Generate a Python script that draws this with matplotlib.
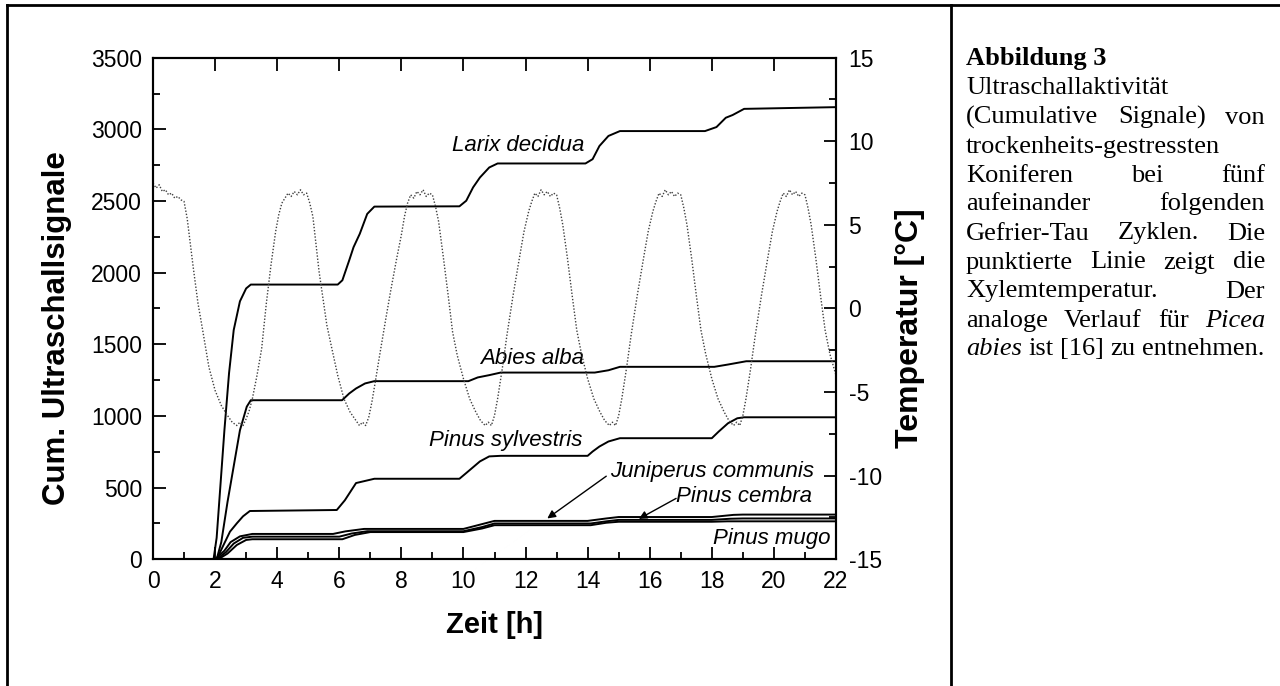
import matplotlib
matplotlib.use("Agg")
import matplotlib.pyplot as plt
from matplotlib.ticker import MultipleLocator
from matplotlib.lines import Line2D

plt.rcParams.update({
    "font.family": "sans-serif",
    "font.sans-serif": ["Liberation Sans", "DejaVu Sans"],
    "axes.unicode_minus": False,
})

# cumulative ultrasound signals, time [h] / counts
larix_t = [0, 1.95, 2.05, 2.15, 2.3, 2.45, 2.6, 2.8, 3.0, 3.15, 5.95, 6.1, 6.32, 6.46, 6.66, 6.9,
           7.13, 9.87, 10.09, 10.31, 10.53, 10.83, 11.1, 13.93, 14.16, 14.38, 14.67, 15.04, 17.78,
           18.15, 18.45, 18.67, 19.04, 22.0]
larix_v = [0, 0, 150, 450, 900, 1300, 1600, 1800, 1890, 1917, 1917, 1947, 2086, 2178, 2271, 2410,
           2461, 2463, 2502, 2595, 2664, 2734, 2762, 2762, 2792, 2884, 2954, 2988, 2988,
           3016, 3081, 3100, 3143, 3155]

abies_t = [0, 2.05, 2.2, 2.4, 2.6, 2.8, 3.02, 3.15, 6.09, 6.32, 6.54, 6.83, 7.13, 10.16, 10.46,
           10.83, 11.2, 14.23, 14.67, 15.04, 18.08, 18.52, 19.11, 22.0]
abies_v = [0, 0, 120, 400, 650, 900, 1065, 1110, 1110, 1157, 1192, 1227, 1243, 1243, 1269,
           1285, 1303, 1303, 1319, 1343, 1343, 1359, 1382, 1382]

sylv_t = [0, 2.05, 2.25, 2.48, 2.7, 2.9, 3.12, 5.92, 6.18, 6.54, 7.13, 9.87, 10.09, 10.53, 10.83,
          11.2, 14.0, 14.16, 14.38, 14.67, 15.04, 18.0, 18.22, 18.52, 18.82, 19.04, 22.0]
sylv_v = [0, 0, 90, 193, 251, 300, 337, 344, 412, 532, 562, 562, 602, 683, 718,
          722, 722, 752, 787, 822, 845, 845, 891, 949, 984, 991, 991]

junip_t = [0, 2.0, 2.3, 2.5, 2.8, 3.2, 5.8, 6.2, 6.8, 10.0, 10.5, 11.0, 14.0, 14.6, 15.0, 18.0,
           18.7, 19.0, 22.0]
junip_v = [0, 0, 60, 120, 160, 177, 177, 195, 212, 212, 240, 268, 268, 285, 295, 295,
           310, 312, 312]

cembra_t = [0, 2.05, 2.35, 2.6, 2.9, 3.2, 6.0, 6.4, 6.9, 10.0, 10.6, 11.0, 14.1, 14.6, 15.0, 18.0,
            18.6, 19.0, 22.0]
cembra_v = [0, 0, 50, 110, 150, 158, 158, 180, 196, 196, 225, 250, 250, 265, 275, 275,
            283, 285, 285]

mugo_t = [0, 2.1, 2.4, 2.7, 3.0, 3.2, 6.1, 6.5, 7.0, 10.0, 10.6, 11.0, 14.1, 14.6, 15.0, 18.0,
          18.5, 22.0]
mugo_v = [0, 0, 40, 100, 135, 140, 140, 170, 190, 190, 215, 238, 238, 255, 262, 262,
          265, 265]

# xylem temperature [°C]
temp_t = [0.0, 0.1, 0.2, 0.3, 0.4, 0.5, 0.6, 0.7, 0.8, 0.9, 1.0,
          1.1, 1.3, 1.45, 1.6, 1.8, 2.0, 2.2, 2.4, 2.55, 2.7, 2.8, 2.9, 3.0, 3.1, 3.2, 3.35,
          3.5, 3.65, 3.8, 3.95, 4.05, 4.15, 4.25, 4.35, 4.45, 4.55, 4.65, 4.75, 4.85, 4.95, 5.05,
          5.15, 5.35, 5.5, 5.6, 5.75, 5.95, 6.15, 6.35, 6.5, 6.65, 6.75, 6.85, 6.95, 7.05, 7.15,
          7.3, 7.5, 7.65, 7.85, 8.0, 8.1, 8.2, 8.3, 8.4, 8.5, 8.6, 8.7, 8.8, 8.9, 9.0, 9.1,
          9.2, 9.35, 9.5, 9.65, 9.8, 10.0, 10.2, 10.4, 10.55, 10.7, 10.8, 10.9, 11.0, 11.1, 11.25,
          11.4, 11.6, 11.8, 11.95, 12.1, 12.2, 12.3, 12.4, 12.5, 12.6, 12.7, 12.8, 12.9, 13.0, 13.1,
          13.2, 13.35, 13.5, 13.65, 13.8, 14.0, 14.2, 14.4, 14.55, 14.7, 14.8, 14.9, 15.0, 15.1, 15.25,
          15.4, 15.6, 15.8, 15.95, 16.1, 16.2, 16.3, 16.4, 16.5, 16.6, 16.7, 16.8, 16.9, 17.0, 17.1,
          17.2, 17.35, 17.5, 17.65, 17.8, 18.0, 18.2, 18.4, 18.55, 18.7, 18.8, 18.9, 19.0, 19.1, 19.25,
          19.4, 19.6, 19.8, 19.95, 20.1, 20.2, 20.3, 20.4, 20.5, 20.6, 20.7, 20.8, 20.9, 21.0, 21.1,
          21.2, 21.35, 21.5, 21.65, 21.8, 22.0]
temp_v = [7.5, 7.2, 7.4, 7.0, 7.1, 6.8, 6.9, 6.6, 6.7, 6.5, 6.4,
          5.4, 2.4, 0.3, -1.3, -3.5, -4.9, -5.8, -6.4, -6.8, -7.0, -6.8, -7.0, -6.6, -6.1, -5.4, -4.0,
          -2.4, 0.3, 2.6, 4.6, 5.6, 6.3, 6.6, 6.9, 6.7, 7.0, 6.8, 7.1, 6.8, 6.9, 6.3,
          5.5, 2.2, 0.3, -1.0, -2.3, -4.0, -5.4, -6.2, -6.6, -7.0, -6.8, -7.0, -6.5, -5.6, -4.5,
          -2.8, -0.6, 1.0, 3.0, 4.4, 5.5, 6.3, 6.8, 6.6, 7.0, 6.8, 7.1, 6.7, 6.9, 6.8, 6.1,
          5.2, 3.1, 0.9, -1.4, -2.8, -4.2, -5.4, -6.2, -6.7, -7.0, -6.8, -7.0, -6.4, -5.4, -3.6,
          -1.6, 0.8, 3.0, 4.6, 5.8, 6.4, 6.9, 6.7, 7.1, 6.8, 7.0, 6.7, 6.9, 6.8, 6.0,
          5.0, 3.0, 0.8, -1.3, -2.7, -4.2, -5.4, -6.2, -6.7, -7.0, -6.8, -7.0, -6.4, -5.4, -3.6,
          -1.6, 0.8, 3.0, 4.6, 5.8, 6.4, 6.9, 6.7, 7.1, 6.8, 7.0, 6.7, 6.9, 6.8, 6.0,
          5.0, 3.0, 0.8, -1.3, -2.7, -4.2, -5.4, -6.2, -6.7, -7.0, -6.8, -7.0, -6.4, -5.4, -3.6,
          -1.6, 0.8, 3.0, 4.6, 5.8, 6.4, 6.9, 6.7, 7.1, 6.8, 7.0, 6.7, 6.9, 6.8, 6.0,
          5.0, 3.0, 0.8, -1.3, -2.7, -4.0]

caption = [
    ([("Abbildung 3", "bold")], False),
    ([("Ultraschallaktivität", "normal")], False),
    ([("(Cumulative", "normal"), ("Signale)", "normal"), ("von", "normal")], True),
    ([("trockenheits-gestressten", "normal")], False),
    ([("Koniferen", "normal"), ("bei", "normal"), ("fünf", "normal")], True),
    ([("aufeinander", "normal"), ("folgenden", "normal")], True),
    ([("Gefrier-Tau", "normal"), ("Zyklen.", "normal"), ("Die", "normal")], True),
    ([("punktierte", "normal"), ("Linie", "normal"), ("zeigt", "normal"), ("die", "normal")], True),
    ([("Xylemtemperatur.", "normal"), ("Der", "normal")], True),
    ([("analoge", "normal"), ("Verlauf", "normal"), ("für", "normal"), ("Picea", "italic")], True),
    ([("abies", "italic"), ("ist", "normal"), ("[16]", "normal"), ("zu", "normal"),
      ("entnehmen.", "normal")], False),
]

W, H = 1280, 686
fig = plt.figure(figsize=(12.8, 6.86), dpi=100)
ax = fig.add_axes([153 / W, 1 - 559.3 / H, 683 / W, 501.6 / H])
ax2 = ax.twinx()

for t, v in [(larix_t, larix_v), (abies_t, abies_v), (sylv_t, sylv_v),
             (junip_t, junip_v), (cembra_t, cembra_v), (mugo_t, mugo_v)]:
    ax.plot(t, v, color='black', linewidth=1.4, zorder=3)

ax2.plot(temp_t, temp_v, color='0.25', linestyle=(0, (1, 1.3)), linewidth=1.0)

ax.set_xlim(0, 22)
ax.set_ylim(0, 3500)
ax2.set_ylim(-15, 15)
ax.xaxis.set_major_locator(MultipleLocator(2))
ax.xaxis.set_minor_locator(MultipleLocator(1))
ax.yaxis.set_major_locator(MultipleLocator(500))
ax.yaxis.set_minor_locator(MultipleLocator(250))
ax2.yaxis.set_major_locator(MultipleLocator(5))
ax2.yaxis.set_minor_locator(MultipleLocator(2.5))

ax.tick_params(which='both', direction='in', top=True, right=False, width=1.3, labelsize=16.5)
ax.tick_params(which='major', length=9)
ax.tick_params(which='minor', length=5)
ax.tick_params(axis='x', which='minor', top=False)
ax.tick_params(axis='x', pad=8)
ax.tick_params(axis='y', pad=8)
ax2.tick_params(which='both', direction='in', width=1.3, labelsize=16.5, pad=9)
ax2.tick_params(which='major', length=9)
ax2.tick_params(which='minor', length=5)
for a in (ax, ax2):
    for s in a.spines.values():
        s.set_linewidth(1.5)

ax.set_xlabel('Zeit [h]', fontsize=21, fontweight='bold', va='center')
ax.xaxis.set_label_coords(0.5, (559.3 - 625) / 501.6)
ax.set_ylabel('Cum. Ultraschallsignale', fontsize=22.5, fontweight='bold',
              va='center', rotation_mode='default')
ax.yaxis.set_label_coords((57 - 153) / 683, (559.3 - 328) / 501.6)
ax2.set_ylabel('Temperatur [°C]', fontsize=23, fontweight='bold',
               va='center', rotation_mode='default')
ax2.yaxis.set_label_coords((910 - 153) / 683, (559.3 - 328) / 501.6)

lab = dict(fontsize=16, style='italic', ha='center', va='center')
ax.text(11.77, 2890, 'Larix decidua', **lab)
ax.text(12.2, 1400, 'Abies alba', **lab)
ax.text(11.35, 832, 'Pinus sylvestris', **lab)
ax.text(18.0, 611, 'Juniperus communis', **lab)
ax.text(19.05, 440, 'Pinus cembra', **lab)
ax.text(19.93, 146, 'Pinus mugo', **lab)
arr = dict(arrowstyle='-|>', color='black', lw=1.0, mutation_scale=12, shrinkA=0, shrinkB=0)
ax.annotate('', xy=(12.7, 285), xytext=(14.6, 580), arrowprops=arr)
ax.annotate('', xy=(15.65, 282), xytext=(16.85, 425), arrowprops=arr)

# outer table frame
frame = dict(transform=fig.transFigure, color='black', linewidth=2)
fig.add_artist(Line2D([6.5 / W, 1], [1 - 5 / H, 1 - 5 / H], **frame))
fig.add_artist(Line2D([6.5 / W, 6.5 / W], [0, 1 - 5 / H], **frame))
fig.add_artist(Line2D([951 / W, 951 / W], [0, 1 - 5 / H], **frame))

# justified caption text
renderer = fig.canvas.get_renderer()
x_left, x_right = 966, 1265
for i, (words, justify) in enumerate(caption):
    base = 65.5 + i * 29.0
    texts = []
    for w, st in words:
        txt = fig.text(0, 0, w, fontsize=19, family='Liberation Serif',
                       fontweight='bold' if st == 'bold' else 'normal',
                       style='italic' if st == 'italic' else 'normal',
                       va='baseline', ha='left')
        texts.append(txt)
    widths = [t.get_window_extent(renderer).width for t in texts]
    if justify and len(texts) > 1:
        gap = (x_right - x_left - sum(widths)) / (len(texts) - 1)
    else:
        gap = 6.5
    x = x_left
    for txt, wd in zip(texts, widths):
        txt.set_position((x / W, 1 - base / H))
        x += wd + gap

fig.savefig('out.png', dpi=100)
